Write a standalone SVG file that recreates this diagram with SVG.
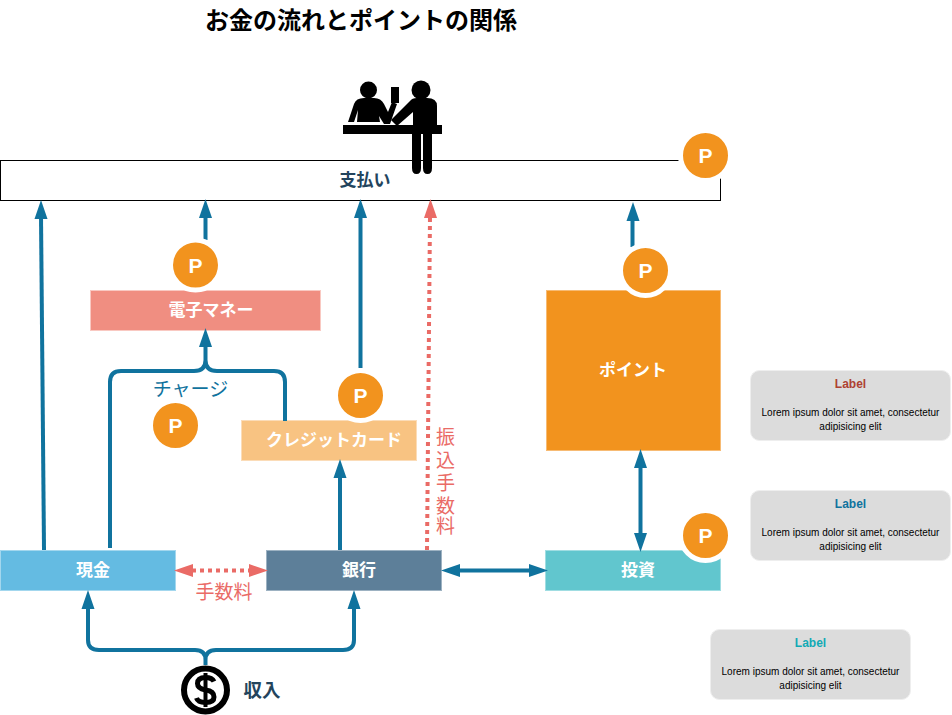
<svg xmlns="http://www.w3.org/2000/svg" width="952" height="715" viewBox="0 0 952 715">
<style>
text{font-family:"Liberation Sans","Noto Sans CJK JP",sans-serif;text-anchor:middle}
.jp{font-family:"Noto Sans CJK JP",sans-serif}
.b{font-weight:700;font-size:17px;fill:#fff}
.d{font-weight:700;font-size:17px;fill:#23445d}
.lnk{fill:none;stroke:#10739e;stroke-width:4}
.dot{fill:none;stroke:#ea6b66;stroke-width:4;stroke-dasharray:4 4}
.at{fill:#10739e}.ar{fill:#ea6b66}
.pc{fill:#f2931e;stroke:#fff;stroke-width:5}
.pt{font-weight:700;font-size:21px;fill:#fff;font-family:"Liberation Sans",sans-serif}
.note{fill:#dcdcdc;stroke:#eeeeee;stroke-width:1}
.nt{font-size:10px;fill:#000}
.nh{font-size:12px;font-weight:700}
.lab{font-size:19px}
</style>
<rect width="952" height="715" fill="#fff"/>
<text id="title" class="jp" x="361" y="29" font-size="24" font-weight="700" fill="#000">お金の流れとポイントの関係</text>

<g id="pay"><rect x="0.5" y="160.500" width="720" height="40" fill="#fff" stroke="#000"/><text class="d jp" x="365" y="186">支払い</text></g>

<g id="emoney"><rect x="90.500" y="290.500" width="230" height="40" fill="#f08e81" stroke="#f9c9c2"/><text class="b jp" x="211" y="316">電子マネー</text></g>
<g id="credit"><rect x="241.500" y="420.500" width="175" height="40" fill="#f8c382" stroke="#fbdcb8"/><text class="b jp" x="334" y="446">クレジットカード</text></g>
<g id="point"><rect x="546.500" y="290.500" width="174" height="160" fill="#f2931e" stroke="#f7bb74"/><text class="b jp" x="633" y="376">ポイント</text></g>
<g id="cash"><rect x="0.500" y="550.500" width="175" height="40" fill="#64bbe2" stroke="#a3d7ee"/><text class="b jp" x="93" y="576">現金</text></g>
<g id="bank"><rect x="266.500" y="550.500" width="175" height="40" fill="#5d7f99" stroke="#9db2c2"/><text class="b jp" x="359" y="576">銀行</text></g>
<g id="invest"><rect x="545.500" y="550.500" width="175" height="40" fill="#61c6ce" stroke="#a0dde2"/><text class="b jp" x="638" y="576">投資</text></g>

<g id="connectors">
<path class="lnk" d="M44 550L41 216"/><path class="at" d="M41 200l6.500 19h-13z"/>
<path class="lnk" d="M205.500 240V216"/><path class="at" d="M205.500 199l6.500 19h-13z"/>
<path class="lnk" d="M360.500 368V216"/><path class="at" d="M360.500 199l6.500 19h-13z"/>
<path class="dot" d="M427 550L430 216"/><path class="ar" d="M430.500 199l6.500 19h-13z"/>
<path class="lnk" d="M632.500 247V218"/><path class="at" d="M633 202l6.500 19h-13z"/>
<path class="lnk" d="M110 548V382Q110 371 121 371H194Q205.500 371 205.500 360V346M285 421V382Q285 371 274 371H217Q205.500 371 205.500 360"/><path class="at" d="M205.500 328l6.500 19h-13z"/>
<path class="lnk" d="M340 550V476"/><path class="at" d="M340 459l6.500 19h-13z"/>
<path class="lnk" d="M205.500 665V660Q205.500 650 195 650H99Q88 650 88 640V606M205.500 660Q205.500 650 216 650H343Q354 650 354 640V606"/><path class="at" d="M88 590l6.500 19h-13zM354 590l6.500 19h-13z"/>
<path class="dot" d="M192 570.500H250"/><path class="ar" d="M174 570.500l19 -6.500v13zM268 570.500l-19 -6.500v13z"/>
<path class="lnk" d="M458 570.500H530"/><path class="at" d="M441 570.500l19 -6.500v13zM548 570.500l-19 -6.500v13z"/>
<path class="lnk" d="M640.500 468V533"/><path class="at" d="M640.500 449l6.500 19h-13zM640.500 552l6.500 -19h-13z"/>
</g>

<text id="charge" class="lab jp" x="190.500" y="396" fill="#10739e">チャージ</text>
<text id="fee" class="lab jp" x="224" y="599" fill="#ea6b66">手数料</text>
<g id="transfer" class="jp" fill="#ea6b66"><text class="lab" x="445.500" y="444">振</text><text class="lab" x="445.500" y="467">込</text><text class="lab" x="445.500" y="490">手</text><text class="lab" x="445.500" y="513">数</text><text class="lab" x="445.500" y="533">料</text></g>

<g id="p1"><circle class="pc" cx="705.500" cy="155.500" r="25"/><text class="pt" x="705.500" y="163">P</text></g>
<g id="p2"><circle class="pc" cx="195.500" cy="265" r="25"/><text class="pt" x="195.500" y="272.500">P</text></g>
<g id="p3"><circle class="pc" cx="360.500" cy="395.500" r="25"/><text class="pt" x="360.500" y="403">P</text></g>
<g id="p4"><circle class="pc" cx="175.500" cy="425.500" r="25"/><text class="pt" x="175.500" y="433">P</text></g>
<g id="p5"><circle class="pc" cx="645.500" cy="270.500" r="25"/><text class="pt" x="645.500" y="278">P</text></g>
<g id="p6"><circle class="pc" cx="705.500" cy="535.500" r="25"/><text class="pt" x="705.500" y="543">P</text></g>

<g id="people" fill="#000">
<circle cx="368.500" cy="90" r="8.500"/>
<path d="M348 122L354 104Q356 98 364 98H374Q381 98 384 104L388 112L392 102L397 104L390 124H384L379 116L380 122H357L358 110L354 122Z"/>
<path d="M391 87H399V103H391Z"/>
<circle cx="421" cy="90" r="9.500"/>
<path d="M391 120L410 101Q412 98 417 98H427Q437 98 437 106V125H413V112L397 126Z"/>
<rect x="343" y="125" width="99" height="9"/>
<path d="M412 134H421V168Q421 174 416.500 174Q412 174 412 168ZM423 134H432V168Q432 174 427.500 174Q423 174 423 168Z"/>
</g>

<g id="income">
<circle cx="205.500" cy="690" r="21.500" fill="#fff" stroke="#000" stroke-width="6"/>
<path d="M214 681.500Q212 677.500 205.500 677.500Q197.500 677.500 197.500 683.500Q197.500 688.500 205.500 690Q214 691 214 697Q214 702.500 205.500 702.500Q198 702.500 196.500 698" fill="none" stroke="#000" stroke-width="5"/>
<path d="M205.500 673V707" fill="none" stroke="#000" stroke-width="4"/>
<text class="d jp" x="262" y="697" font-size="18" style="font-size:18.500px">収入</text>
</g>

<g id="note1"><rect class="note" x="750.500" y="370.500" width="200" height="70" rx="9"/><text class="nh" x="850.500" y="388" fill="#ae4132">Label</text><text class="nt" x="850.500" y="416">Lorem ipsum dolor sit amet, consectetur</text><text class="nt" x="850.500" y="430">adipisicing elit</text></g>
<g id="note2"><rect class="note" x="750.500" y="490.500" width="200" height="70" rx="9"/><text class="nh" x="850.500" y="508" fill="#10739e">Label</text><text class="nt" x="850.500" y="536">Lorem ipsum dolor sit amet, consectetur</text><text class="nt" x="850.500" y="550">adipisicing elit</text></g>
<g id="note3"><rect class="note" x="710.500" y="629.500" width="200" height="70" rx="9"/><text class="nh" x="810.500" y="647" fill="#12aab5">Label</text><text class="nt" x="810.500" y="675">Lorem ipsum dolor sit amet, consectetur</text><text class="nt" x="810.500" y="689">adipisicing elit</text></g>
</svg>
